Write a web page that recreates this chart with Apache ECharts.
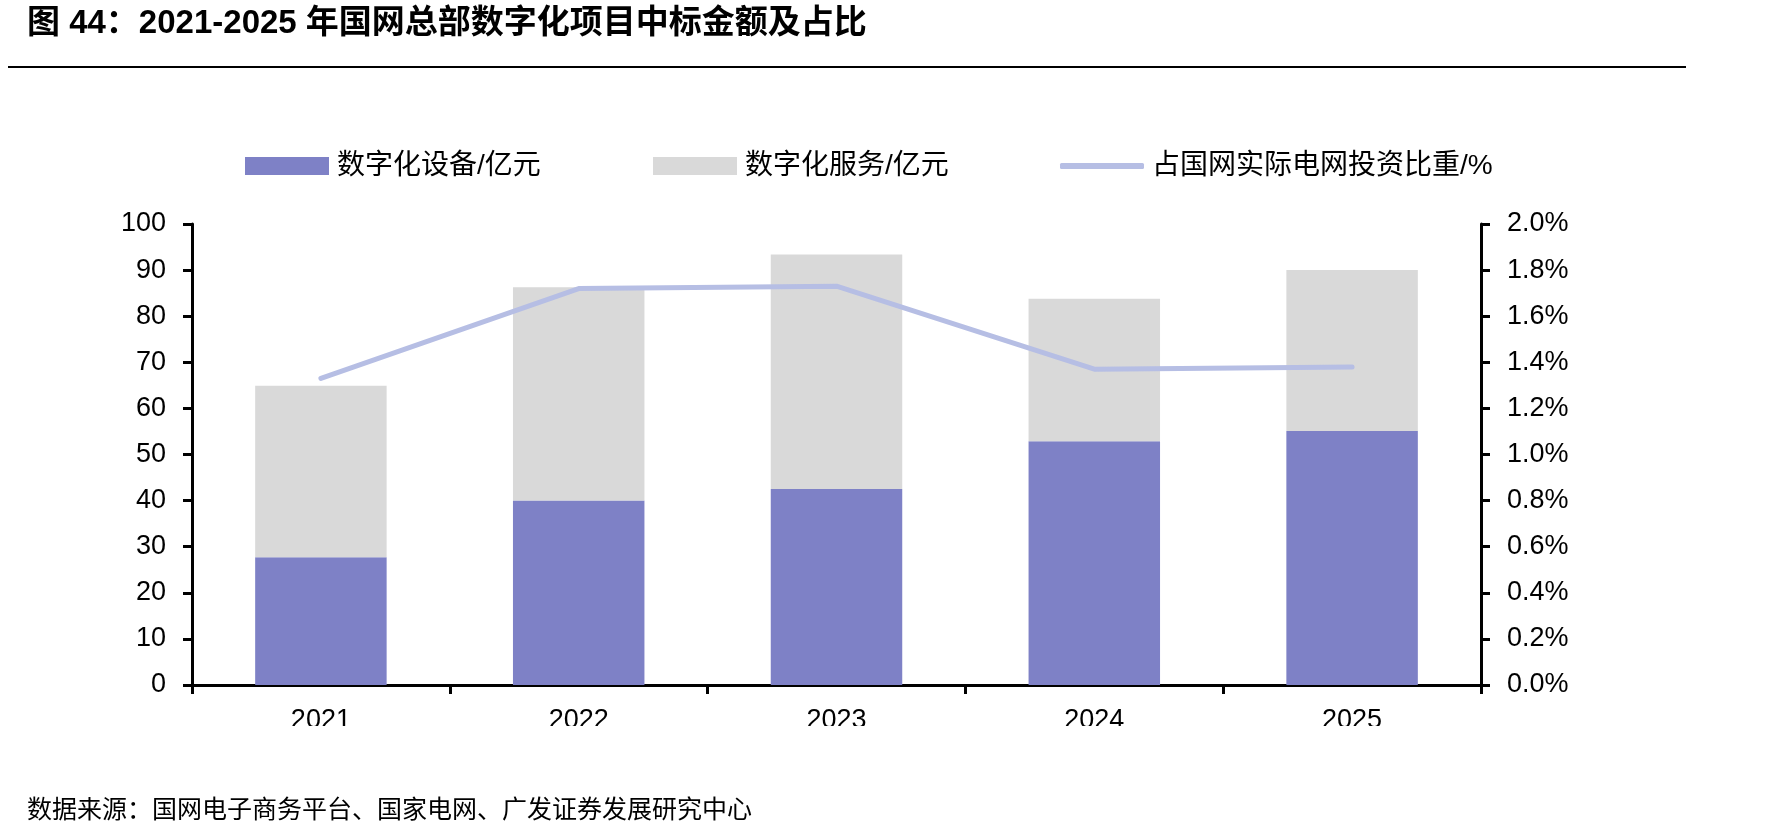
<!DOCTYPE html>
<html>
<head>
<meta charset="utf-8">
<title>国网总部数字化项目中标金额及占比</title>
<script src="https://cdn.jsdelivr.net/npm/echarts@6/dist/echarts.min.js"></script>
<style>
  html, body { margin: 0; padding: 0; background: #fff; }
  #main { width: 1790px; height: 838px; }
</style>
</head>
<body>
<div id="main"></div>
<script>
// 数据
const years = ['2021', '2022', '2023', '2024', '2025']
const equipment = [27.7, 40.0, 42.5, 52.9, 55.1] // 数字化设备/亿元
const service = [37.2, 46.3, 50.9, 30.9, 34.9] // 数字化服务/亿元
const ratio = [1.33, 1.72, 1.73, 1.37, 1.38] // 占国网实际电网投资比重/%

const FONT = 'Liberation Sans, Noto Sans CJK SC, sans-serif'
const BLUE = '#7e81c6'
const GRAY = '#d9d9d9'
const LINE = '#b6bee4'

const myChart = echarts.init(document.getElementById('main'))

const legendText = {
  fontSize: 28,
  fontFamily: FONT,
  color: '#000',
  padding: [0, 0, 0, 3]
}

const options = {
  animation: false,
  title: [
    {
      text: '图 44：2021-2025 年国网总部数字化项目中标金额及占比',
      left: 22,
      top: 2,
      textStyle: { fontSize: 33, fontWeight: 'bold', fontFamily: FONT, color: '#000' }
    },
    {
      text: '数据来源：国网电子商务平台、国家电网、广发证券发展研究中心',
      left: 22,
      top: 794,
      textStyle: { fontSize: 25, fontWeight: 'normal', fontFamily: FONT, color: '#000' }
    }
  ],
  legend: [
    {
      data: ['数字化设备/亿元'],
      left: 240,
      top: 147,
      itemWidth: 84,
      itemHeight: 18,
      icon: 'rect',
      textStyle: legendText
    },
    {
      data: ['数字化服务/亿元'],
      left: 648,
      top: 147,
      itemWidth: 84,
      itemHeight: 18,
      icon: 'rect',
      textStyle: legendText
    },
    {
      data: [{ name: '占国网实际电网投资比重/%', icon: 'roundRect', itemStyle: { color: LINE } }],
      left: 1055,
      top: 147,
      itemWidth: 84,
      itemHeight: 6,
      textStyle: legendText
    }
  ],
  grid: {
    left: 192,
    right: 309,
    top: 224,
    bottom: 153
  },
  xAxis: {
    type: 'category',
    data: years,
    axisLine: { lineStyle: { color: '#000', width: 3 } },
    axisTick: { show: true, length: 9, lineStyle: { color: '#000', width: 3 } },
    axisLabel: { fontSize: 27, fontFamily: FONT, color: '#000', margin: 22 }
  },
  yAxis: [
    {
      type: 'value',
      min: 0,
      max: 100,
      interval: 10,
      splitLine: { show: false },
      axisLine: { show: true, lineStyle: { color: '#000', width: 3 } },
      axisTick: { show: true, length: 9, lineStyle: { color: '#000', width: 3 } },
      axisLabel: { fontSize: 27, fontFamily: FONT, color: '#000', margin: 26 }
    },
    {
      type: 'value',
      position: 'right',
      min: 0,
      max: 2,
      interval: 0.2,
      splitLine: { show: false },
      axisLine: { show: true, lineStyle: { color: '#000', width: 3 } },
      axisTick: { show: true, length: 9, lineStyle: { color: '#000', width: 3 } },
      axisLabel: {
        fontSize: 27,
        fontFamily: FONT,
        color: '#000',
        margin: 26,
        formatter: v => v.toFixed(1) + '%'
      }
    }
  ],
  series: [
    {
      name: '数字化设备/亿元',
      type: 'bar',
      stack: 'total',
      barWidth: '51%',
      itemStyle: { color: BLUE },
      data: equipment
    },
    {
      name: '数字化服务/亿元',
      type: 'bar',
      stack: 'total',
      barWidth: '51%',
      itemStyle: { color: GRAY },
      data: service
    },
    {
      name: '占国网实际电网投资比重/%',
      type: 'line',
      yAxisIndex: 1,
      showSymbol: false,
      symbol: 'none',
      z: 5,
      lineStyle: { color: LINE, width: 5, cap: 'round', join: 'round' },
      itemStyle: { color: LINE },
      data: ratio
    }
  ],
  graphic: [
    {
      // 标题下的横线
      type: 'line',
      shape: { x1: 8, y1: 67, x2: 1686, y2: 67 },
      style: { stroke: '#000', lineWidth: 2 }
    },
    {
      // 原图中横轴标签下半部分被裁掉
      type: 'rect',
      z: 100,
      shape: { x: 0, y: 726, width: 1790, height: 50 },
      style: { fill: '#fff' }
    }
  ]
}

myChart.setOption(options)
</script>
</body>
</html>
